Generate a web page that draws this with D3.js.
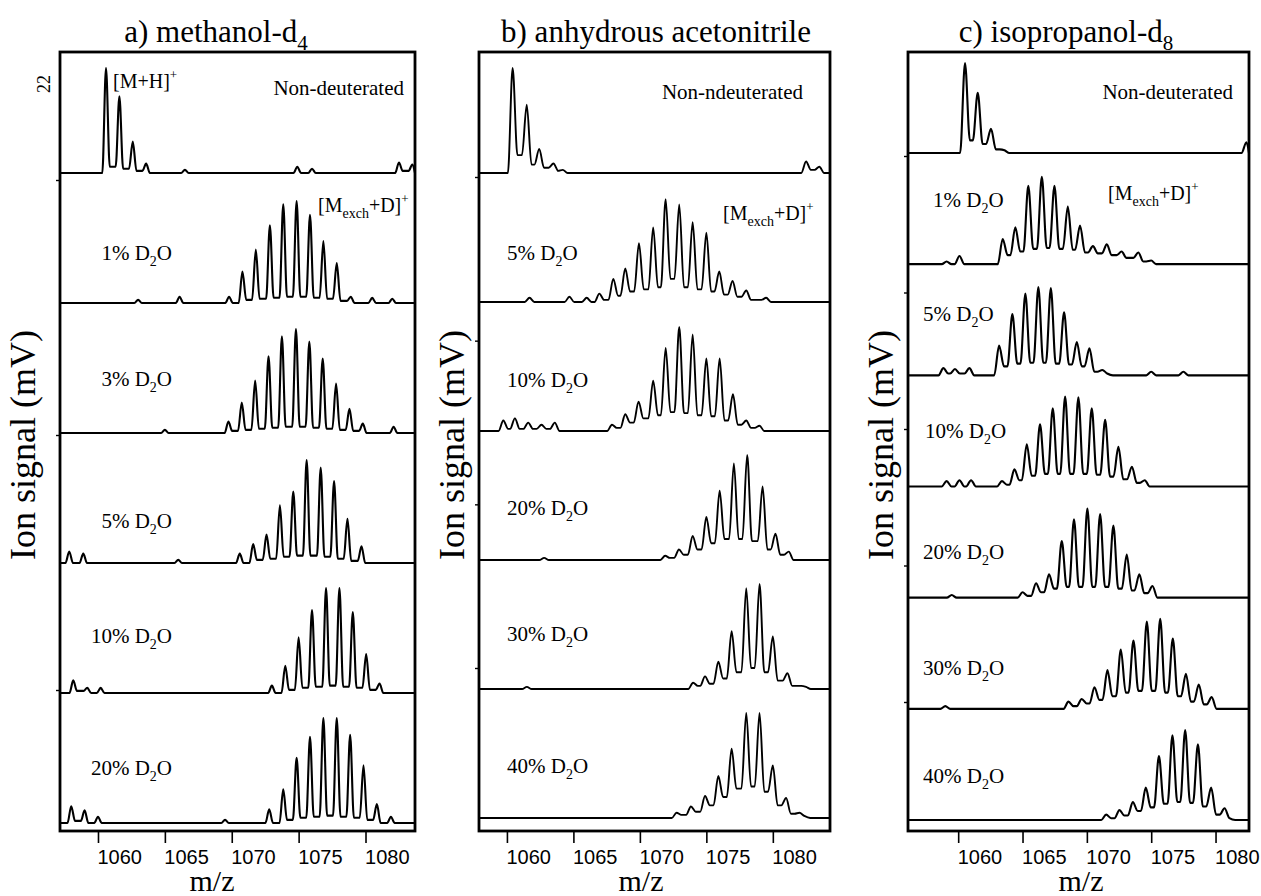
<!DOCTYPE html>
<html>
<head>
<meta charset="utf-8">
<script src="https://cdn.jsdelivr.net/npm/d3@7"></script>
<style>
  body { margin: 0; background: #fff; }
</style>
</head>
<body>
<div id="chart"></div>
<script>
// shared m/z ticks
const mzTicks = [1060, 1065, 1070, 1075, 1080];

// each peak: [m/z, height (% of panel max), signal level in the valley right of it (%)]
// a) methanol-d4
const methanolLabels = ["Non-deuterated", "1%", "3%", "5%", "10%", "20%"];
const methanolNonDeut = [[1060.6,100,6],[1061.6,73,4],[1062.6,30,2],[1063.6,9,0],[1066.5,3,0],[1074.9,6,0],[1076.0,4,0],[1082.5,10,2],[1083.5,8,0]];
const methanol1 = [[1063.0,3,0],[1066.1,6,0],[1069.8,6,0],[1070.8,30,3],[1071.8,51,4],[1072.85,74,5],[1073.85,94,6],[1074.85,97,6],[1075.85,84,5],[1076.85,59,4],[1077.85,38,2],[1078.9,6,0],[1080.5,5,0],[1082.0,4,0]];
const methanol3 = [[1065.0,3,0],[1069.75,11,2],[1070.75,29,3],[1071.75,50,4],[1072.75,73,5],[1073.75,92,6],[1074.8,99,6],[1075.8,87,5],[1076.8,71,4],[1077.8,47,3],[1078.8,23,2],[1079.8,9,0],[1082.1,6,0]];
const methanol5 = [[1057.85,11,0],[1058.9,9,0],[1066.0,3,0],[1070.6,9,0],[1071.6,18,3],[1072.6,27,4],[1073.6,55,6],[1074.6,68,7],[1075.6,98,7],[1076.65,91,6],[1077.65,78,4],[1078.65,42,2],[1079.7,16,0]];
const methanol10 = [[1058.15,12,2],[1059.2,5,0],[1060.2,5,0],[1073.0,7,0],[1074.0,26,3],[1075.0,53,5],[1076.0,79,6],[1077.05,100,7],[1078.05,100,6],[1079.05,77,5],[1080.05,37,3],[1081.05,9,0]];
const methanol20 = [[1058.0,16,2],[1059.0,12,0],[1060.0,6,0],[1069.5,3,0],[1072.8,13,0],[1073.85,32,3],[1074.85,62,5],[1075.85,82,6],[1076.85,100,7],[1077.85,100,6],[1078.85,84,5],[1079.85,55,3],[1080.85,18,0],[1081.9,6,0]];

// b) anhydrous acetonitrile
const acetoLabels = ["Non-ndeuterated", "5%", "10%", "20%", "30%", "40%"];
const acetoNonDeut = [[1060.43,100,17],[1061.49,65,8],[1062.43,23,5],[1063.5,9,2],[1064.2,3,0],[1082.5,11,3],[1083.5,6,0]];
const aceto5 = [[1061.7,4,0],[1064.7,5,0],[1066.0,4,0],[1066.95,8,2],[1068.0,22,6],[1068.9,32,10],[1069.93,56,12],[1071.0,71,14],[1071.94,98,22],[1072.96,93,14],[1073.97,76,12],[1075.0,66,10],[1075.97,29,7],[1076.97,20,5],[1078.0,11,2],[1079.5,4,0]];
const aceto10 = [[1059.73,10,2],[1060.6,12,2],[1061.6,8,2],[1062.6,6,2],[1063.6,8,0],[1067.9,6,3],[1068.9,16,8],[1069.9,28,12],[1071.0,48,15],[1071.94,79,18],[1072.96,99,17],[1073.97,92,15],[1075.0,69,14],[1076.0,69,10],[1077.0,35,6],[1078.0,10,3],[1079.0,5,0]];
const aceto20 = [[1062.8,2,0],[1071.9,4,2],[1072.94,10,5],[1073.97,23,10],[1075.0,41,16],[1076.0,66,20],[1077.07,92,20],[1078.07,100,18],[1079.23,70,10],[1080.2,25,5],[1081.2,8,0]];
const aceto30 = [[1061.5,2,0],[1074.0,6,3],[1074.9,12,5],[1075.9,26,10],[1076.9,55,16],[1078.0,96,20],[1079.0,100,16],[1080.0,50,8],[1081.1,15,3],[1082.5,2,0]];
const aceto40 = [[1072.76,5,3],[1073.84,11,6],[1074.9,21,12],[1075.9,40,20],[1076.9,66,28],[1078.0,100,30],[1079.0,100,25],[1080.0,50,12],[1081.0,19,4],[1082.0,5,2]];

// c) isopropanol-d8
const isoLabels = ["Non-deuterated", "1%", "5%", "10%", "20%", "30%", "40%"];
const isoNonDeut = [[1060.53,100,14],[1061.52,67,10],[1062.55,27,4],[1063.6,3,0],[1082.4,12,0]];
const iso1 = [[1059.1,3,0],[1060.1,9,0],[1063.46,28,10],[1064.44,41,14],[1065.45,87,17],[1066.5,97,18],[1067.48,87,17],[1068.52,64,16],[1069.47,43,13],[1070.47,20,12],[1071.55,22,10],[1072.7,14,7],[1074.0,13,3],[1075.0,4,0]];
const iso5 = [[1058.85,8,2],[1059.75,7,2],[1060.87,8,0],[1063.18,33,10],[1064.21,68,13],[1065.22,91,14],[1066.23,98,14],[1067.2,97,13],[1068.23,70,12],[1069.22,37,10],[1070.2,30,4],[1071.2,6,2],[1075.0,4,0],[1077.5,4,0]];
const iso10 = [[1059.1,6,0],[1060.1,7,0],[1061.0,7,0],[1063.4,6,2],[1064.37,19,7],[1065.33,47,12],[1066.36,69,14],[1067.35,87,14],[1068.31,100,14],[1069.34,99,14],[1070.38,87,13],[1071.42,74,11],[1072.45,44,8],[1073.5,22,4],[1074.5,7,0]];
const iso20 = [[1059.5,3,0],[1065.0,6,2],[1066.05,16,6],[1067.06,26,10],[1068.05,63,12],[1069.0,87,12],[1070.04,99,12],[1071.03,93,12],[1072.06,80,10],[1073.1,48,8],[1074.08,26,5],[1075.1,13,0]];
const iso30 = [[1059.0,3,0],[1068.57,8,3],[1069.6,11,6],[1070.59,24,10],[1071.6,43,14],[1072.64,66,18],[1073.62,76,20],[1074.66,97,20],[1075.7,100,18],[1076.68,78,14],[1077.7,39,8],[1078.7,27,5],[1079.7,13,0]];
const iso40 = [[1071.5,6,2],[1072.53,11,5],[1073.57,20,10],[1074.58,36,14],[1075.6,71,18],[1076.65,94,20],[1077.64,100,19],[1078.63,84,15],[1079.66,36,6],[1080.7,13,2]];

// unlabeled ion-signal ticks (mV)
const methanolSignalTicks = [0, 10, 20];
const acetoSignalTicks = [0, 10, 20, 30];
const isoSignalTicks = [0, 10, 20, 30, 40];

const panels = [
  { title: "a) methanol-d", titleSub: "4", titleX: 216,
    box: { x0: 60, x1: 415, y0: 52, y1: 831 }, mzDomain: [1057.16, 1083.7],
    rows: [173, 823], peakPx: 105, halfWidth: 0.28, stroke: 2.1,
    labels: methanolLabels,
    spectra: [methanolNonDeut, methanol1, methanol3, methanol5, methanol10, methanol20],
    labelAnchor: "end", labelX: [404, 172, 172, 172, 172, 172], labelDy: [-78, -43, -47, -35, -50, -48],
    exch: { x: 318, y: 212 }, mh: { x: 113, y: 88 },
    signalTicks: methanolSignalTicks, signalRange: [690, 180], ylabelX: 35, mzX: 212 },
  { title: "b) anhydrous acetonitrile", titleX: 656,
    box: { x0: 479, x1: 830, y0: 52, y1: 831 }, mzDomain: [1057.9, 1084.3],
    rows: [173, 818], peakPx: 105, halfWidth: 0.36, stroke: 1.9,
    labels: acetoLabels,
    spectra: [acetoNonDeut, aceto5, aceto10, aceto20, aceto30, aceto40],
    labelAnchor: "start", labelX: [803, 507, 507, 507, 507, 507], labelDy: [-74, -42, -44, -45, -48, -45],
    exch: { x: 723, y: 220 },
    signalTicks: acetoSignalTicks, signalRange: [668, 177], ylabelX: 464, mzX: 641 },
  { title: "c) isopropanol-d", titleSub: "8", titleX: 1066,
    box: { x0: 908, x1: 1249, y0: 52, y1: 831 }, mzDomain: [1056.1, 1082.6],
    rows: [153, 820], peakPx: 90, halfWidth: 0.38, stroke: 2.1,
    labels: isoLabels,
    spectra: [isoNonDeut, iso1, iso5, iso10, iso20, iso30, iso40],
    labelAnchor: "start", labelX: [1233, 933, 923, 925, 923, 923, 923], labelDy: [-54, -57, -54, -49, -39, -34, -37],
    exch: { x: 1108, y: 200 },
    signalTicks: isoSignalTicks, signalRange: [702, 156], ylabelX: 893, mzX: 1081 }
];

const width = 1261, height = 896;
const serif = "'Liberation Serif', 'Times New Roman', Times, serif";
const sans = "'Liberation Sans', Arial, Helvetica, sans-serif";

const svg = d3.select("#chart").append("svg")
  .attr("width", width)
  .attr("height", height)
  .style("font-family", serif);

// turn a peak list into the points of one trace
function tracePoints(peaks, w, domain) {
  const pts = [[domain[0], 0]];
  let prevM = -Infinity, prevFloor = 0;
  peaks.forEach(([m, h, f], i) => {
    const left = m - prevM < 1.6 ? prevFloor : 0;
    pts.push([m - w, left], [m, h], [m + w, f]);
    const next = peaks[i + 1];
    if (!next || next[0] - m >= 1.6) pts.push([m + w + 0.45, 0]);
    prevM = m;
    prevFloor = f;
  });
  pts.push([domain[1], 0]);
  return pts.filter((d) => d[0] >= domain[0] && d[0] <= domain[1]);
}

function d2oLabel(sel, pct) {
  sel.append("tspan").text(pct + " D");
  sel.append("tspan").attr("font-size", 14).attr("dy", 6).text("2");
  sel.append("tspan").attr("dy", -6).text("O");
}

function exchLabel(sel) {
  sel.append("tspan").text("[M");
  sel.append("tspan").attr("font-size", 14).attr("dy", 6).text("exch");
  sel.append("tspan").attr("dy", -6).text("+D]");
  sel.append("tspan").attr("font-size", 13).attr("dy", -9).text("+");
}

panels.forEach((p, pi) => {
  const g = svg.append("g");
  const x = d3.scaleLinear().domain(p.mzDomain).range([p.box.x0, p.box.x1]);
  const row = d3.scalePoint().domain(p.labels).range(p.rows);
  const inten = d3.scaleLinear().domain([0, 100]).range([0, p.peakPx]);
  const signal = d3.scaleLinear()
    .domain([0, d3.max(p.signalTicks)])
    .range(p.signalRange);

  const clipId = "clip" + pi;
  svg.append("clipPath").attr("id", clipId)
    .append("rect")
    .attr("x", p.box.x0).attr("y", p.box.y0 - 20)
    .attr("width", p.box.x1 - p.box.x0).attr("height", p.box.y1 - p.box.y0 + 20);

  // spectra
  const line = d3.line().curve(d3.curveMonotoneX);
  g.append("g")
    .attr("clip-path", `url(#${clipId})`)
    .selectAll("path")
    .data(p.spectra)
    .enter()
    .append("path")
    .attr("fill", "none")
    .attr("stroke", "#000")
    .attr("stroke-width", p.stroke)
    .attr("stroke-linejoin", "round")
    .attr("d", (peaks, i) => {
      const base = row(p.labels[i]);
      return line(tracePoints(peaks, p.halfWidth, p.mzDomain)
        .map(([m, v]) => [x(m), base - inten(v)]));
    });

  // frame
  g.append("rect")
    .attr("x", p.box.x0).attr("y", p.box.y0)
    .attr("width", p.box.x1 - p.box.x0).attr("height", p.box.y1 - p.box.y0)
    .attr("fill", "none")
    .attr("stroke", "#000")
    .attr("stroke-width", 2.8);

  // m/z axis
  const xAxis = g.append("g")
    .attr("transform", `translate(0, ${p.box.y1 + 1})`)
    .call(d3.axisBottom(x).tickValues(mzTicks).tickSize(11).tickFormat(d3.format("d")));
  xAxis.select(".domain").remove();
  xAxis.selectAll(".tick line").attr("stroke-width", 1.6);
  xAxis.selectAll(".tick text")
    .attr("text-anchor", "start")
    .attr("y", 32).attr("dy", 0).attr("dx", -1)
    .attr("font-family", sans).attr("font-size", 20).attr("fill", "#000");

  // ion-signal axis (ticks only)
  const yAxis = g.append("g")
    .attr("transform", `translate(${p.box.x0}, 0)`)
    .call(d3.axisLeft(signal).tickValues(p.signalTicks).tickSize(4).tickFormat(""));
  yAxis.select(".domain").remove();
  yAxis.selectAll(".tick line").attr("stroke-width", 1.4);

  // titles
  const t = g.append("text")
    .attr("x", p.titleX).attr("y", 42)
    .attr("text-anchor", "middle")
    .attr("font-size", 31)
    .text(p.title);
  if (p.titleSub) t.append("tspan").attr("font-size", 21).attr("dy", 8).text(p.titleSub);

  g.append("text")
    .attr("transform", `translate(${p.ylabelX}, 445) rotate(-90)`)
    .attr("text-anchor", "middle")
    .attr("font-size", 36)
    .text("Ion signal (mV)");

  g.append("text")
    .attr("x", p.mzX).attr("y", 891)
    .attr("text-anchor", "middle")
    .attr("font-size", 30)
    .text("m/z");

  // trace labels
  p.labels.forEach((lab, i) => {
    const txt = g.append("text")
      .attr("y", row(lab) + p.labelDy[i])
      .attr("font-size", 21);
    if (i === 0) {
      txt.attr("x", p.labelX[i]).attr("text-anchor", "end").text(lab);
    } else {
      txt.attr("x", p.labelX[i]).attr("text-anchor", p.labelAnchor);
      d2oLabel(txt, lab);
    }
  });

  exchLabel(g.append("text").attr("x", p.exch.x).attr("y", p.exch.y).attr("font-size", 20));

  if (p.mh) {
    const mh = g.append("text").attr("x", p.mh.x).attr("y", p.mh.y).attr("font-size", 20);
    mh.append("tspan").text("[M+H]");
    mh.append("tspan").attr("font-size", 13).attr("dy", -9).text("+");
  }
});

// top tick label of panel a
svg.append("text")
  .attr("transform", "translate(50, 84) rotate(-90)")
  .attr("text-anchor", "middle")
  .attr("font-size", 18)
  .text("22");
</script>
</body>
</html>
